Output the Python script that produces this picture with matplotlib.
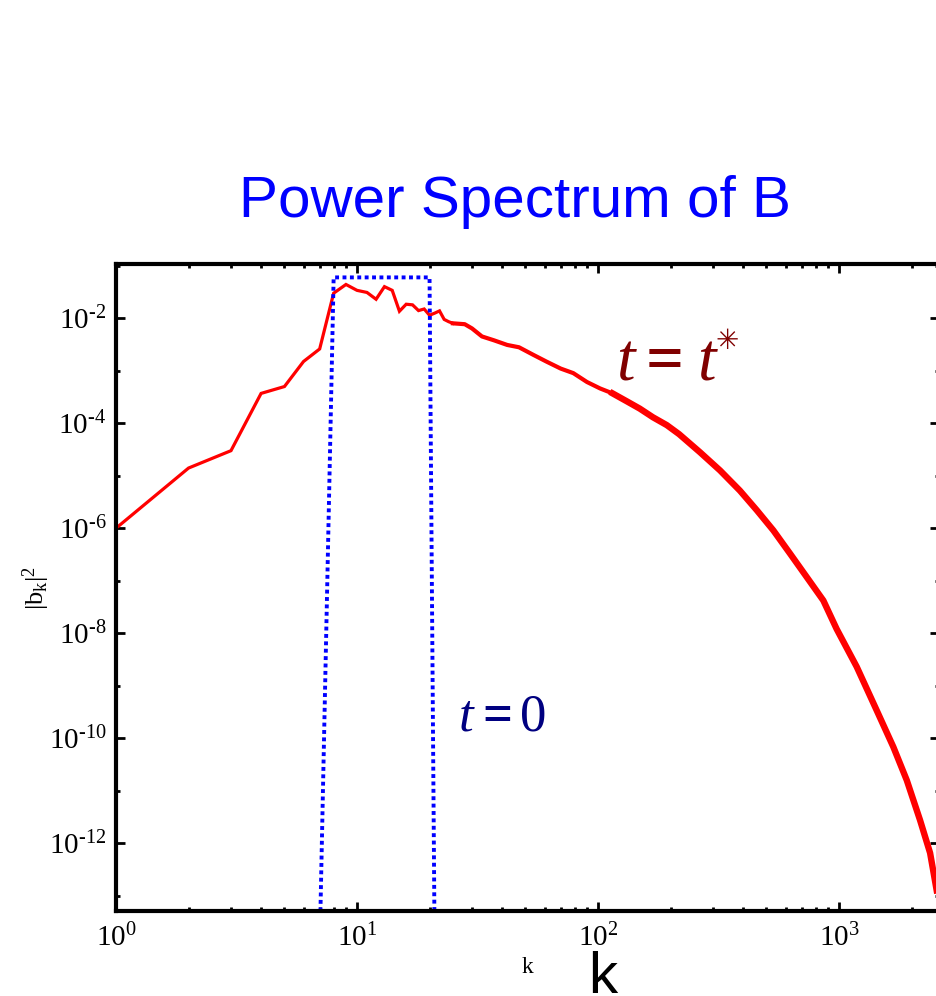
import numpy as np
import matplotlib
matplotlib.use('Agg')
import matplotlib.pyplot as plt
from matplotlib.ticker import FixedLocator, LogLocator, NullFormatter, FixedFormatter

plt.rcParams['mathtext.fontset'] = 'custom'
plt.rcParams['mathtext.rm'] = 'Liberation Serif'
plt.rcParams['mathtext.it'] = 'Liberation Serif:italic'
plt.rcParams['mathtext.bf'] = 'Liberation Serif:bold'

# |b_k|^2 at t = t*
k_star = [1, 2, 3, 4, 5, 6, 7, 8, 9, 10, 11, 12, 13, 14, 15, 16, 17, 18, 19, 20,
          21, 22, 23, 24, 25, 28, 30, 33, 37, 42, 47, 54, 61, 70, 79, 90, 102, 115,
          132, 149, 169, 193, 217, 265, 321, 388, 456, 534, 626, 735, 861, 978,
          1184, 1433, 1681, 1911, 2169, 2388, 2543]
power_star = [1.0e-6, 1.4e-5, 3.0e-5, 3.7e-4, 5.0e-4, 1.5e-3, 2.6e-3, 3.0e-2, 4.4e-2,
              3.4e-2, 3.1e-2, 2.3e-2, 4.0e-2, 3.4e-2, 1.36e-2, 1.85e-2, 1.8e-2, 1.4e-2,
              1.5e-2, 1.14e-2, 1.25e-2, 1.38e-2, 9.5e-3, 8.6e-3, 8.0e-3, 7.7e-3, 6.4e-3,
              4.5e-3, 3.8e-3, 3.1e-3, 2.8e-3, 2.0e-3, 1.5e-3, 1.1e-3, 9.0e-4, 6.1e-4,
              4.6e-4, 3.7e-4, 2.6e-4, 1.9e-4, 1.3e-4, 9.2e-5, 6.2e-5, 2.8e-5, 1.26e-5,
              5.2e-6, 2.2e-6, 9.1e-7, 3.3e-7, 1.17e-7, 4.2e-8, 1.2e-8, 2.3e-9, 3.4e-10,
              6.8e-11, 1.58e-11, 2.75e-12, 6.5e-13, 1.26e-13]

# initial spectrum at t = 0 (band k = 8..20)
k_init = [7, 8, 20, 21]
power_init = [1e-14, 6e-2, 6e-2, 1e-14]

x_major = [1e0, 1e1, 1e2, 1e3]
y_major = [1e-12, 1e-10, 1e-8, 1e-6, 1e-4, 1e-2]
y_minor = [1e-13, 1e-11, 1e-9, 1e-7, 1e-5, 1e-3, 1e-1]
x_labels = ['0', '1', '2', '3']
y_labels = ['\u201012', '\u201010', '\u20108', '\u20106', '\u20104', '\u20102']


def pow_label(e):
    return r'$\mathrm{10^{%s}}$' % e


fig = plt.figure(figsize=(9.37, 9.96), dpi=100)
ax = fig.add_axes([116 / 937, 85 / 996, 823 / 937, 647 / 996])

k_star = np.array(k_star)
power_star = np.array(power_star)
# the spectrum gets noisier at high k, so thicken the line there
lo = k_star <= 25
mid = (k_star >= 25) & (k_star <= 132)
hi = k_star >= 115
ax.plot(k_star[lo], power_star[lo], color='red', lw=2.3, solid_joinstyle='miter')
ax.plot(k_star[mid], power_star[mid], color='red', lw=3.0)
ax.plot(k_star[hi], power_star[hi], color='red', lw=4.6)

ax.plot(k_init, power_init, color='blue', lw=2.8, linestyle=(0, (1.0, 0.9)),
        dash_capstyle='butt')

ax.set_xscale('log')
ax.set_yscale('log')
ax.set_xlim(1, 2600)
ax.set_ylim(5.1e-14, 0.108)

ax.xaxis.set_major_locator(FixedLocator(x_major))
ax.xaxis.set_major_formatter(FixedFormatter([pow_label(e) for e in x_labels]))
ax.xaxis.set_minor_locator(LogLocator(base=10, subs=np.arange(2, 10), numticks=20))
ax.xaxis.set_minor_formatter(NullFormatter())
ax.yaxis.set_major_locator(FixedLocator(y_major))
ax.yaxis.set_major_formatter(FixedFormatter([pow_label(e) for e in y_labels]))
ax.yaxis.set_minor_locator(FixedLocator(y_minor))
ax.yaxis.set_minor_formatter(NullFormatter())

ax.tick_params(which='both', direction='in', top=True, right=True, width=2.0,
               labelsize=21)
ax.tick_params(axis='x', pad=9)
ax.tick_params(axis='y', pad=7)
ax.tick_params(which='major', length=6.5)
ax.tick_params(which='minor', length=3.2)
for sp in ax.spines.values():
    sp.set_linewidth(3.0)

ax.set_xlabel('k', family='Liberation Serif', fontsize=17)
ax.xaxis.set_label_coords(0.5, -0.071)
ax.set_ylabel(r'$\mathrm{|b_k|^2}$', fontsize=19)
ax.yaxis.set_label_coords(-0.078, 0.5)


def px(x, y):
    return x / 937, 1 - y / 996


# t = t*
dark_red = '#800000'
fig.text(*px(625.5, 380), 't', color=dark_red, family='Liberation Serif',
         style='italic', fontsize=48, ha='center', va='baseline')
fig.text(*px(665, 380), '=', color=dark_red, family='Liberation Serif',
         weight='bold', fontsize=48, ha='center', va='baseline')
fig.text(*px(706, 380), 't', color=dark_red, family='Liberation Serif',
         style='italic', fontsize=48, ha='center', va='baseline')
fig.text(*px(727.5, 341), '\u2733', color=dark_red, family='DejaVu Sans',
         fontsize=20, ha='center', va='center')

# t = 0
navy = '#000080'
fig.text(*px(466.5, 730), 't', color=navy, family='Liberation Serif',
         style='italic', fontsize=38, ha='center', va='baseline')
fig.text(*px(497.5, 730), '=', color=navy, family='Liberation Serif',
         weight='bold', fontsize=38, ha='center', va='baseline')
fig.text(*px(533.5, 730), '0', color=navy, family='Liberation Serif',
         fontsize=38, ha='center', va='baseline')

fig.text(*px(515.5, 217), 'Power Spectrum of B', color='blue',
         family='Liberation Sans', fontsize=42, ha='center', va='baseline')
fig.text(*px(588, 993), 'k', color='black', family='Liberation Sans',
         fontsize=42, ha='left', va='baseline')

fig.savefig('out.png', dpi=100)
